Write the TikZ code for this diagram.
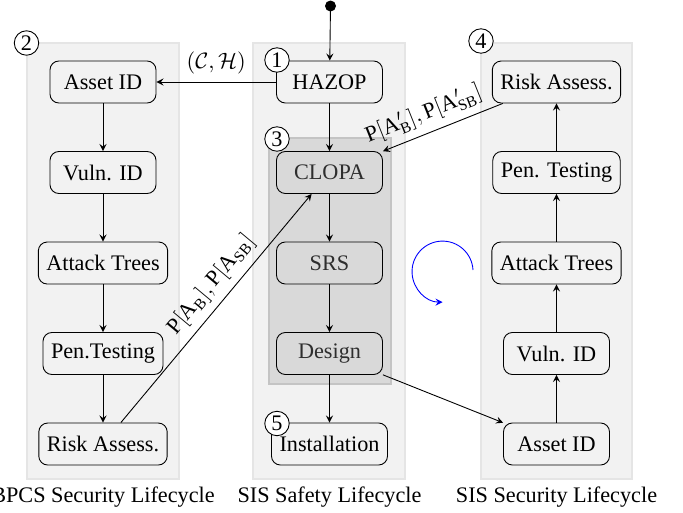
\documentclass[tikz,border=0pt]{standalone}
\usepackage{amsmath}
\usepackage{amssymb}
\usepackage{fontspec}
\setmainfont{Liberation Serif}
\usetikzlibrary{arrows}
\definecolor{laneF}{RGB}{242, 242, 242}
\definecolor{laneD}{RGB}{229, 229, 229}
\definecolor{coreF}{RGB}{217, 217, 217}
\definecolor{coreD}{RGB}{196, 196, 196}

\tikzset{
  stage/.style={draw=black, fill=laneF, rounded corners=4pt, minimum width=47.7pt,
    minimum height=18.9pt, inner xsep=3.6pt},
  corestage/.style={stage, fill=coreF, text=black!82},
  num/.style={circle, draw=black, fill=white, inner sep=0.5pt, minimum size=11pt},
  flow/.style={-stealth, black},
}

\begin{document}
\begin{tikzpicture}[x=0.45pt, y=0.45pt]
  \useasboundingbox (0,0) rectangle (683,-512);

	%# LANES
  \filldraw[draw=laneD, fill=laneF, line width=0.9pt] (27,-43) rectangle (179,-479);
  \filldraw[draw=laneD, fill=laneF, line width=0.9pt] (253,-43) rectangle (405,-479);
  \filldraw[draw=laneD, fill=laneF, line width=0.9pt] (481,-43) rectangle (632,-479);
  \filldraw[draw=coreD, fill=coreF, line width=0.9pt] (269,-138) rectangle (391,-384);

	%# BPCS SECURITY
  \node[stage] (bAsset) at (103,-82) {Asset ID};
  \node[stage] (bVuln) at (103,-172.5) {Vuln. ID};
  \node[stage] (bTree) at (103,-263) {Attack Trees};
  \node[stage] (bPen) at (103,-353.5) {Pen.Testing};
  \node[stage] (bRisk) at (103,-444) {Risk Assess.};

	%# SIS SAFETY
  \node[stage] (hazop) at (329.5,-82) {HAZOP};
  \node[corestage] (clopa) at (329.5,-172.5) {CLOPA};
  \node[corestage] (srs) at (329.5,-263) {SRS};
  \node[corestage] (design) at (329.5,-353.5) {Design};
  \node[stage] (install) at (329.5,-444) {Installation};

	%# SIS SECURITY
  \node[stage] (sRisk) at (556.5,-82) {Risk Assess.};
  \node[stage] (sPen) at (556.5,-172.5) {Pen. Testing};
  \node[stage] (sTree) at (556.5,-263) {Attack Trees};
  \node[stage] (sVuln) at (556.5,-353.5) {Vuln. ID};
  \node[stage] (sAsset) at (556.5,-444) {Asset ID};

	%# START
  \fill[black] (330.5,-6) circle (5.5) coordinate (start);

	%# ARROWS
  \draw[flow] (start) -- (hazop);
  \draw[flow] (hazop) -- (bAsset) node[midway, above] {$(\mathcal{C},\mathcal{H})$};
  \draw[flow] (hazop) -- (clopa);
  \draw[flow] (clopa) -- (srs);
  \draw[flow] (srs) -- (design);
  \draw[flow] (design) -- (install);

  \draw[flow] (bAsset) -- (bVuln);
  \draw[flow] (bVuln) -- (bTree);
  \draw[flow] (bTree) -- (bPen);
  \draw[flow] (bPen) -- (bRisk);

  \draw[flow] (sAsset) -- (sVuln);
  \draw[flow] (sVuln) -- (sTree);
  \draw[flow] (sTree) -- (sPen);
  \draw[flow] (sPen) -- (sRisk);

  \draw[flow] (bRisk) -- (clopa)
    node[pos=0.55, above, sloped] {$\mathrm{P}[\mathrm{A}_{\mathrm{B}}],\mathrm{P}[\mathrm{A}_{\mathrm{SB}}]$};
  \draw[flow] (sRisk) -- (clopa)
    node[pos=0.6, above, sloped] {$\mathrm{P}[\mathrm{A}'_{\mathrm{B}}],\mathrm{P}[\mathrm{A}'_{\mathrm{SB}}]$};
  \draw[flow] (design) -- (sAsset);

	%# CYCLE
  \draw[blue, -stealth] (473,-270) arc (3:270:30.5);

	%# NUMBERS
  \node[num] (n1) at (277,-60) {1};
  \node[num] (n2) at (26.5,-43) {2};
  \node[num] (n3) at (277,-139) {3};
  \node[num] (n4) at (481,-41) {4};
  \node[num] (n5) at (277,-423.5) {5};

	%# TITLES
  \node (tBpcs) at (103,-497) {BPCS Security Lifecycle};
  \node (tSafe) at (329.5,-497) {SIS Safety Lifecycle};
  \node (tSec) at (556.5,-497) {SIS Security Lifecycle};
\end{tikzpicture}
\end{document}
